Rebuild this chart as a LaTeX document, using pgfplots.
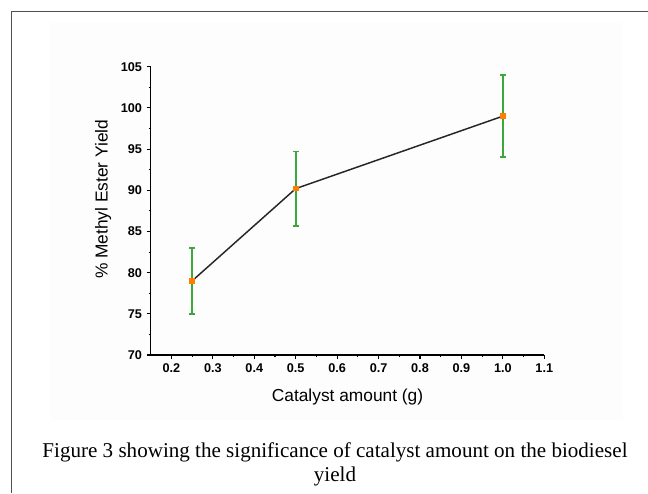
\documentclass[border=0pt]{standalone}
\usepackage{pgfplots}
\pgfplotsset{compat=1.18}
\usepackage{fontspec}
\setmainfont{Liberation Sans}
\newfontfamily\capfont{Liberation Serif}
\definecolor{errgreen}{RGB}{60,168,60}
\definecolor{ptorange}{RGB}{255,125,0}
\definecolor{framegray}{RGB}{80,80,80}
\begin{document}
\begin{tikzpicture}
\useasboundingbox (0,0) rectangle (486pt,369.75pt);
\begin{scope}[x=0.75pt,y=0.75pt]
\fill[black!0.8] (50,470) rectangle (623,73);
\draw[framegray, line width=1.3pt] (11.5,0) -- (11.5,481.5) -- (648,481.5);
\node[font=\capfont\fontsize{15.8}{18}\selectfont, anchor=base] at (335,36) {Figure 3 showing the significance of catalyst amount on the biodiesel};
\node[font=\capfont\fontsize{15.8}{18}\selectfont, anchor=base] at (335,12) {yield};
\end{scope}
\begin{axis}[
  at={(113.025pt,103.5pt)}, anchor=south west,
  scale only axis, width=295.2pt, height=216.2pt,
  xmin=0.15, xmax=1.1, ymin=70, ymax=105,
  axis lines*=left,
  axis line style={line width=0.9pt},
  xtick={0.2,0.3,...,1.1}, ytick={70,75,...,105},
  minor x tick num=1, minor y tick num=1,
  tick align=outside,
  major tick length=3pt, minor tick length=1.6pt,
  tick style={line width=0.8pt, black},
  xticklabel style={/pgf/number format/.cd, fixed, fixed zerofill, precision=1, assume math mode=true},
  yticklabel style={/pgf/number format/.cd, fixed, precision=0, assume math mode=true},
  ticklabel style={font=\fontsize{9.5}{11}\selectfont\bfseries},
  label style={font=\fontsize{13}{15}\selectfont},
  xlabel={Catalyst amount (g)},
  ylabel={\% Methyl Ester Yield},
  xlabel style={at={(axis description cs:0.5,-0.145)}, anchor=center},
  ylabel style={at={(axis description cs:-0.121,0.54)}, anchor=center},
  clip=false,
]
\addplot[draw=none, mark=none, forget plot,
  error bars/.cd, y dir=both, y explicit,
  error bar style={draw=errgreen, line width=1.35pt},
  error mark options={draw=errgreen, line width=1.35pt, mark size=2.2pt, rotate=90}]
  coordinates {
    (0.25,79.0) +- (0,4.0)
    (0.5,90.2) +- (0,4.5)
    (1.0,99.0) +- (0,5.0)
  };
\addplot[black!85, line width=1.1pt, mark=square*, mark size=1.6pt,
  mark options={ptorange, draw=ptorange}]
  coordinates {
    (0.25,79.0)
    (0.5,90.2)
    (1.0,99.0)
  };
\end{axis}
\end{tikzpicture}
\end{document}
